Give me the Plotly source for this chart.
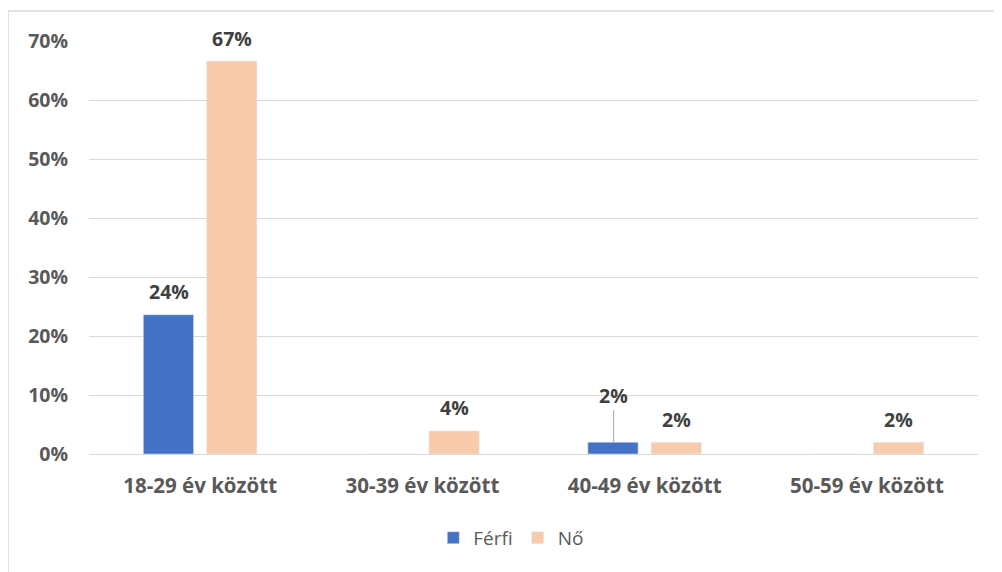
import plotly.graph_objects as go

categories = ["18-29 év között", "30-39 év között", "40-49 év között", "50-59 év között"]
ferfi = [0.236, 0.0, 0.02, 0.0]
no = [0.666, 0.039, 0.02, 0.02]
ferfi_labels = ["24%", "", "2%", ""]
no_labels = ["67%", "4%", "2%", "2%"]
y_ticks = [0, 0.1, 0.2, 0.3, 0.4, 0.5, 0.6, 0.7]
y_tick_text = ["0%", "10%", "20%", "30%", "40%", "50%", "60%", "70%"]

BLUE = "#4472C4"
PEACH = "#F8CBAD"
FONT = "'Open Sans', 'Noto Sans', sans-serif"

fig = go.Figure()
fig.add_trace(go.Bar(name="Férfi", x=categories, y=ferfi, marker_color=BLUE))
fig.add_trace(go.Bar(name="Nő", x=categories, y=no, marker_color=PEACH))

annotations = []
label_font = dict(family=FONT, size=19.5, color="#404040")
for i, c in enumerate(categories):
    for vals, labs, shift in ((ferfi, ferfi_labels, -31), (no, no_labels, 32)):
        if not labs[i]:
            continue
        if vals is ferfi and i == 2:
            annotations.append(dict(x=c, y=vals[i], xref="x", yref="y", text="<b>%s</b>" % labs[i],
                                    showarrow=True, arrowhead=0, arrowwidth=1, arrowcolor="#a6a6a6",
                                    ax=0, ay=-47, standoff=0, xshift=shift, font=label_font))
        else:
            annotations.append(dict(x=c, y=vals[i], xref="x", yref="y", text="<b>%s</b>" % labs[i],
                                    showarrow=False, yshift=23, xshift=shift, yanchor="middle",
                                    font=label_font))

fig.update_layout(
    width=994, height=564,
    paper_bgcolor="white", plot_bgcolor="white",
    margin=dict(l=81, r=24, t=33, b=118),
    barmode="group", bargap=0.43, bargroupgap=0.206,
    font=dict(family=FONT, color="#595959"),
    showlegend=True,
    legend=dict(orientation="h", x=0.475, xanchor="center", y=-0.203, yanchor="middle",
                font=dict(family=FONT, size=19, color="#595959"), itemwidth=30),
    annotations=annotations,
    shapes=[
        dict(type="line", xref="paper", yref="paper", x0=-0.0911, x1=1.05, y0=1.0726, y1=1.0726,
             line=dict(color="#d9d9d9", width=1.5)),
        dict(type="line", xref="paper", yref="paper", x0=-0.0911, x1=-0.0911, y0=1.0726, y1=-0.3,
             line=dict(color="#d9d9d9", width=1.5)),
    ],
)
fig.update_yaxes(range=[0, 0.7], tickvals=y_ticks, ticktext=["<b>%s</b>" % t for t in y_tick_text],
                 showgrid=True, gridcolor="#d9d9d9", gridwidth=1, zeroline=True, zerolinecolor="#d9d9d9",
                 zerolinewidth=1, showline=False, tickfont=dict(family=FONT, size=19.5, color="#595959"),
                 ticklabelstandoff=20)
fig.update_xaxes(tickvals=categories, ticktext=["<b>%s</b>" % c for c in categories],
                 showgrid=False, showline=False, tickfont=dict(family=FONT, size=20.5, color="#595959"),
                 ticklabelstandoff=17)

fig.write_html("out.html")
